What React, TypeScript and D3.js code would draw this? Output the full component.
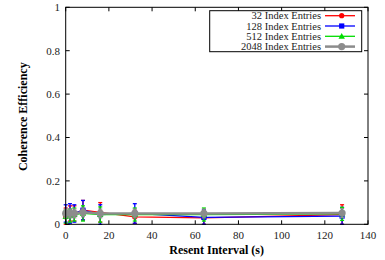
import React from "react";
import * as d3 from "d3";

const intervals = [0, 2, 4, 8, 16, 32, 64, 128];
const seriesNames = ["32 Index Entries", "128 Index Entries", "512 Index Entries", "2048 Index Entries"];
const values32 = [0.035, 0.05, 0.05, 0.065, 0.055, 0.034, 0.03, 0.045];
const err32 = [0.04, 0.035, 0.035, 0.045, 0.045, 0.03, 0.03, 0.045];
const values128 = [0.05, 0.05, 0.05, 0.065, 0.045, 0.05, 0.032, 0.038];
const err128 = [0.04, 0.045, 0.04, 0.045, 0.045, 0.045, 0.035, 0.04];
const values512 = [0.035, 0.04, 0.045, 0.05, 0.045, 0.045, 0.045, 0.048];
const err512 = [0.03, 0.03, 0.03, 0.035, 0.035, 0.03, 0.03, 0.03];
const values2048 = [0.05, 0.05, 0.05, 0.055, 0.05, 0.05, 0.05, 0.052];
const err2048 = [0.02, 0.02, 0.02, 0.02, 0.02, 0.02, 0.02, 0.02];
const xTicks = [0, 20, 40, 60, 80, 100, 120, 140];
const yTicks = [0, 0.2, 0.4, 0.6, 0.8, 1];

const colors = ["#ff0000", "#0000ff", "#00dd00", "#8c8c8c"];
const markers = ["circle", "square", "triangle", "bigcircle"];

export default function App() {
  const W = 385, H = 260;
  const x = d3.scaleLinear().domain([0, 140]).range([65.7, 368]);
  const y = d3.scaleLinear().domain([0, 1]).range([224.3, 7.3]);
  const all = [
    { v: values32, e: err32 },
    { v: values128, e: err128 },
    { v: values512, e: err512 },
    { v: values2048, e: err2048 },
  ];
  const line = d3.line<number>().x((_, i) => x(intervals[i])).y((d) => y(d));
  const font = "Liberation Serif, Times New Roman, DejaVu Serif, serif";

  const marker = (kind: string, cx: number, cy: number, c: string, key?: any) => {
    if (kind === "circle") return <circle key={key} cx={cx} cy={cy} r={2.6} fill={c} />;
    if (kind === "square") return <rect key={key} x={cx - 2.6} y={cy - 2.6} width={5.2} height={5.2} fill={c} />;
    if (kind === "triangle") return <path key={key} d={`M${cx},${cy - 3.2}L${cx + 3.2},${cy + 2.4}L${cx - 3.2},${cy + 2.4}Z`} fill={c} />;
    return <circle key={key} cx={cx} cy={cy} r={3.6} fill={c} />;
  };

  return (
    <svg width={W} height={H} style={{ position: "absolute", left: 0, top: 0, background: "#fff" }}>
      {all.map((s, si) => (
        <g key={si}>
          <path d={line(s.v) || ""} fill="none" stroke={colors[si]} strokeWidth={si === 3 ? 2.5 : 1.3} />
          {s.v.map((v, i) => {
            const cx = x(intervals[i]);
            const top = y(Math.min(1, v + s.e[i]));
            const bot = y(Math.max(0, v - s.e[i]));
            return (
              <g key={i}>
                <line x1={cx} x2={cx} y1={top} y2={bot} stroke={colors[si]} strokeWidth={1.3} />
                <line x1={cx - 2} x2={cx + 2} y1={top} y2={top} stroke={colors[si]} strokeWidth={1.3} />
                <line x1={cx - 2} x2={cx + 2} y1={bot} y2={bot} stroke={colors[si]} strokeWidth={1.3} />
              </g>
            );
          })}
          {s.v.map((v, i) => marker(markers[si], x(intervals[i]), y(v), colors[si], "m" + i))}
        </g>
      ))}
      <rect x={x(0)} y={y(1)} width={x(140) - x(0)} height={y(0) - y(1)} fill="none" stroke="#000" strokeWidth={1} />
      {xTicks.map((t) => (
        <g key={"x" + t}>
          <line x1={x(t)} x2={x(t)} y1={y(0)} y2={y(0) - 4} stroke="#000" />
          <line x1={x(t)} x2={x(t)} y1={y(1)} y2={y(1) + 4} stroke="#000" />
          <text x={x(t)} y={239} textAnchor="middle" fontFamily={font} fontSize={11} fill="#222">{t}</text>
        </g>
      ))}
      {yTicks.map((t) => (
        <g key={"y" + t}>
          <line x1={x(0)} x2={x(0) + 4} y1={y(t)} y2={y(t)} stroke="#000" />
          <line x1={x(140)} x2={x(140) - 4} y1={y(t)} y2={y(t)} stroke="#000" />
          <text x={60} y={y(t) + 3.8} textAnchor="end" fontFamily={font} fontSize={11} fill="#222">{t}</text>
        </g>
      ))}
      <text x={216.7} y={254} textAnchor="middle" fontFamily={font} fontSize={12} fontWeight="bold">Resent Interval (s)</text>
      <text transform="translate(27,116.7) rotate(-90)" textAnchor="middle" fontFamily={font} fontSize={12} fontWeight="bold">Coherence Efficiency</text>
      <rect x={209.7} y={10.7} width={152} height={41} fill="#fff" stroke="#000" strokeWidth={1} />
      {seriesNames.map((n, i) => {
        const ly = 15.7 + i * 10.3;
        return (
          <g key={n}>
            <text x={321} y={ly + 3.6} textAnchor="end" fontFamily={font} fontSize={10.5} fill="#222">{n}</text>
            <line x1={325} x2={355} y1={ly} y2={ly} stroke={colors[i]} strokeWidth={i === 3 ? 2.5 : 1.3} />
            {marker(markers[i], 341.7, ly, colors[i])}
          </g>
        );
      })}
    </svg>
  );
}
